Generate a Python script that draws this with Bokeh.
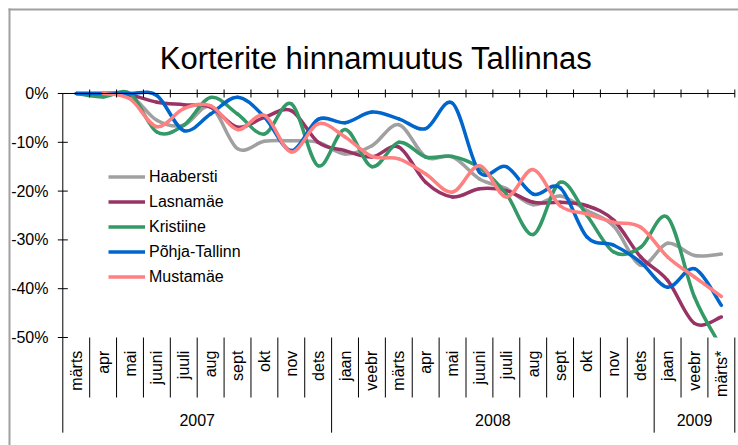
import numpy as np
from bokeh.plotting import figure
from bokeh.models import Range1d, Legend, LegendItem, ColumnDataSource
from bokeh.core.properties import value
from bokeh.embed import file_html
from bokeh.resources import INLINE

# ---------------- data ----------------
title_text = "Korterite hinnamuutus Tallinnas"
months = ["märts", "apr", "mai", "juuni", "juuli", "aug", "sept", "okt", "nov", "dets",
          "jaan", "veebr", "märts", "apr", "mai", "juuni", "juuli", "aug", "sept", "okt", "nov", "dets",
          "jaan", "veebr", "märts*"]
years = ["2007", "2008", "2009"]
year_counts = [10, 12, 3]
y_ticks = [0, -10, -20, -30, -40, -50]
y_tick_labels = ["0%", "-10%", "-20%", "-30%", "-40%", "-50%"]

series_names = ["Haabersti", "Lasnamäe", "Kristiine", "Põhja-Tallinn", "Mustamäe"]
haabersti = [0, 0, -0.3, -5.5, -6.5, -2.7, -11.3, -9.8, -9.7, -10.0, -12.4, -10.7, -6.4,
             -13.0, -13.0, -17.5, -19.5, -22.8, -21.0, -24.0, -27.2, -35.2, -30.7, -33.2, -32.9]
lasnamae = [0, 0, -0.3, -1.8, -2.3, -2.8, -6.9, -4.9, -3.5, -10.0, -11.7, -13.0, -11.0,
            -18.2, -21.2, -19.5, -19.9, -22.3, -22.3, -23.0, -26.0, -33.5, -38.3, -47.1, -45.8]
kristiine = [0, -0.7, 0, -7.9, -6.5, -0.8, -4.2, -8.3, -2.1, -14.8, -7.4, -15.0, -10.0,
             -13.0, -12.9, -15.2, -20.6, -28.9, -18.2, -25.0, -32.5, -31.5, -25.4, -41.7, -52.0]
pohja = [0, 0, 0, -0.4, -7.6, -4.2, -0.75, -4.8, -11.7, -5.3, -6.0, -3.8, -5.2,
         -7.2, -2.0, -16.1, -15.0, -20.6, -19.3, -29.4, -31.1, -34.6, -39.7, -35.9, -43.4]
mustamae = [None, 0, -1.1, -6.8, -3.1, -2.5, -7.4, -4.5, -12.0, -6.2, -8.9, -12.9, -13.4,
            -16.5, -20.2, -14.8, -21.2, -15.6, -23.0, -24.7, -26.4, -27.4, -33.5, -37.6, -41.6]
series_values = [haabersti, lasnamae, kristiine, pohja, mustamae]
series_colors = ["#a0a0a0", "#993366", "#339966", "#0066cc", "#ff8080"]

# ---------------- layout constants ----------------
FONT = "Liberation Sans"
W, H = 738, 445
PX_X = 26.88   # pixels per category
PX_Y = 4.88    # pixels per percent
X_START, X_END = -2.3177, 25.1376
Y_START, Y_END = -72.131, 19.057
N = len(months)

BORDER_X = -1.983
BORDER_Y = 17.213
LABEL_TOP = -52.7
MONTH_SEP_BOTTOM = -62.3
YEAR_SEP_BOTTOM = -69.5
YEAR_LABEL_Y = -67.0

p = figure(width=W, height=H, x_range=Range1d(X_START, X_END), y_range=Range1d(Y_START, Y_END),
           output_backend="svg", toolbar_location=None, x_axis_type=None, y_axis_type=None,
           min_border=0, min_border_left=0, min_border_right=0, min_border_top=0, min_border_bottom=0,
           outline_line_color=None, background_fill_color="white", border_fill_color="white")

# chart border (left and top)
p.segment(x0=[BORDER_X, BORDER_X - 1.0 / PX_X], y0=[Y_START, BORDER_Y],
          x1=[BORDER_X, X_END], y1=[BORDER_Y + 1.0 / PX_Y, BORDER_Y],
          line_color="#a0a0a0", line_width=2)

# title
p.text(x=[11.652], y=[7.17], text=[title_text], text_align="center", text_baseline="alphabetic",
       text_font=value(FONT), text_font_size=value("31px"), text_color="black")


# ---------------- smoothed series (Bezier segments through the monthly points) ----------------
def bezier_source(vals):
    pts = [(i + 0.5, v) for i, v in enumerate(vals) if v is not None]
    d = {k: [] for k in ["x0", "y0", "x1", "y1", "cx0", "cy0", "cx1", "cy1"]}
    n = len(pts)
    for k in range(n - 1):
        p0 = pts[k - 1] if k > 0 else pts[k]
        p1 = pts[k]
        p2 = pts[k + 1]
        p3 = pts[k + 2] if k + 2 < n else pts[k + 1]
        d["x0"].append(p1[0]); d["y0"].append(p1[1])
        d["x1"].append(p2[0]); d["y1"].append(p2[1])
        d["cx0"].append(p1[0] + (p2[0] - p0[0]) / 6.0)
        d["cy0"].append(p1[1] + (p2[1] - p0[1]) / 6.0)
        d["cx1"].append(p2[0] - (p3[0] - p1[0]) / 6.0)
        d["cy1"].append(p2[1] - (p3[1] - p1[1]) / 6.0)
    return ColumnDataSource(d)


legend_items = []
for name, vals, col in zip(series_names, series_values, series_colors):
    src = bezier_source(vals)
    p.bezier(x0="x0", y0="y0", x1="x1", y1="y1", cx0="cx0", cy0="cy0", cx1="cx1", cy1="cy1",
             source=src, line_color=col, line_width=3.5, line_cap="round")
    r = p.line(x=np.array([np.nan]), y=np.array([np.nan]), line_color=col, line_width=3.5)
    legend_items.append(LegendItem(label=name, renderers=[r]))

# mask below the plot area (clip at -50%)
p.quad(left=[0], right=[N], top=[-50], bottom=[Y_START], fill_color="white", line_color=None)

# ---------------- value axis ----------------
p.segment(x0=[0], y0=[0], x1=[0], y1=[YEAR_SEP_BOTTOM], line_color="black", line_width=1)
tk = 5.0 / PX_X
p.segment(x0=[-tk] * len(y_ticks), y0=y_ticks, x1=[tk] * len(y_ticks), y1=y_ticks,
          line_color="black", line_width=1)
p.text(x=[-14.3 / PX_X] * len(y_ticks), y=y_ticks, text=y_tick_labels, text_align="right",
       text_baseline="middle", text_font=value(FONT), text_font_size=value("16px"), text_color="black")

# ---------------- category axis (crossing at 0%) ----------------
bounds = list(range(1, N + 1))
p.segment(x0=[0], y0=[0], x1=[N], y1=[0], line_color="black", line_width=1)
ct = 4.0 / PX_Y
p.segment(x0=bounds, y0=[ct] * len(bounds), x1=bounds, y1=[-ct] * len(bounds),
          line_color="black", line_width=1)

# multi-level category labels
year_bounds = [0]
for c in year_counts:
    year_bounds.append(year_bounds[-1] + c)
month_bounds = [b for b in range(1, N) if b not in year_bounds]
p.segment(x0=month_bounds, y0=[-50] * len(month_bounds), x1=month_bounds,
          y1=[MONTH_SEP_BOTTOM] * len(month_bounds), line_color="black", line_width=1)
yb = year_bounds[1:]
p.segment(x0=yb, y0=[-50] * len(yb), x1=yb, y1=[YEAR_SEP_BOTTOM] * len(yb),
          line_color="black", line_width=1)

centers = [i + 0.5 for i in range(N)]
p.text(x=centers, y=[LABEL_TOP] * N, text=months, angle=np.pi / 2, text_align="right",
       text_baseline="middle", text_font=value(FONT), text_font_size=value("16px"), text_color="black")

year_centers = [(year_bounds[k] + year_bounds[k + 1]) / 2.0 for k in range(len(years))]
p.text(x=year_centers, y=[YEAR_LABEL_Y] * len(years), text=years, text_align="center",
       text_baseline="middle", text_font=value(FONT), text_font_size=value("16px"), text_color="black")

# ---------------- legend ----------------
legend = Legend(items=legend_items, location=(108, 158), orientation="vertical",
                glyph_width=37, glyph_height=21, label_height=21, spacing=4, padding=0, margin=0,
                label_standoff=4, border_line_color=None, background_fill_alpha=0,
                label_text_font=FONT, label_text_font_size="16px", label_text_color="black")
p.add_layout(legend)

open("out.html", "w").write(file_html(p, INLINE))
